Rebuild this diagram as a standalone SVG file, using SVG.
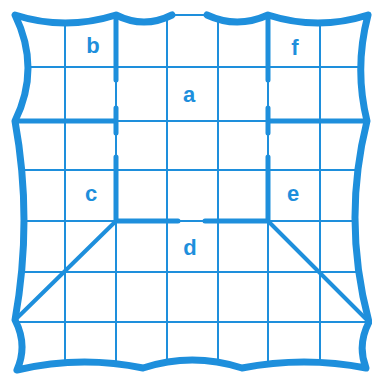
<svg xmlns="http://www.w3.org/2000/svg" width="372" height="375" viewBox="0 0 372 375">
<style>
.grid{stroke:#1e8fdc;stroke-width:2;fill:none}
.wall{stroke:#1e8fdc;stroke-width:5;stroke-linecap:round;fill:none}
.border{stroke:#1e8fdc;stroke-width:7;stroke-linejoin:round;stroke-linecap:round;fill:none}
.lbl{font-family:"Liberation Sans",Arial,sans-serif;font-weight:bold;font-size:22px;fill:#1e8fdc;text-anchor:middle}
</style>
<defs>
<clipPath id="room">
<path d="M15,15 Q65,31 116,15 Q144,29 172,15 L207,15 Q237,29 268,15 Q318,31 368,15 Q354,68 367,121 Q342,221 369,322 Q357,345 366,368 Q304,356 242,368 Q192,352 143,368 Q80,355 17,370 Q28,345 15,320 Q33,220 15,121 Q41,68 15,15 Z"/>
</clipPath>
</defs>
<rect width="372" height="375" fill="#ffffff"/>
<g id="grid" clip-path="url(#room)">
<path class="grid" d="M65,0V375M116,0V375M167,0V375M218,0V375M268,0V375M320,0V375M0,67H372M0,121H372M0,170H372M0,221H372M0,272H372M0,322H372"/>
</g>
<g id="border">
<path class="border" d="M172,15 Q144,29 116,15 Q65,31 15,15 Q41,68 15,121 Q33,220 15,320 Q28,345 17,370 Q80,355 143,368 Q192,352 242,368 Q304,356 366,368 Q357,345 369,322 Q342,221 367,121 Q354,68 368,15 Q318,31 268,15 Q237,29 207,15"/>
<path class="grid" d="M172,15H207"/>
</g>
<g id="walls">
<path class="wall" d="M116,15V80M116,108V133M116,157V221M268,15V80M268,108V133M268,157V221M15,121H116M268,121H367M116,221H178M205,221H268"/>
<path class="wall" style="stroke-width:4" d="M116,221L15,320M268,221L369,322"/>
</g>
<g id="label-a"><text class="lbl" x="189" y="102">a</text></g>
<g id="label-b"><text class="lbl" x="93" y="53">b</text></g>
<g id="label-c"><text class="lbl" x="91" y="201">c</text></g>
<g id="label-d"><text class="lbl" x="190" y="255">d</text></g>
<g id="label-e"><text class="lbl" x="293" y="201">e</text></g>
<g id="label-f"><text class="lbl" x="295" y="55">f</text></g>
</svg>
